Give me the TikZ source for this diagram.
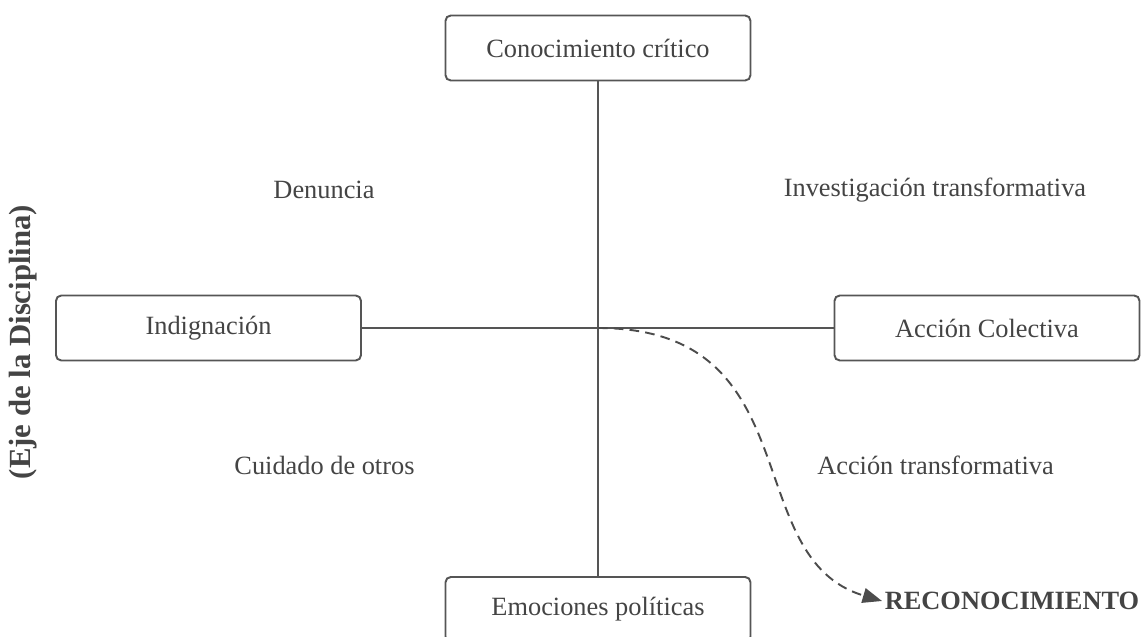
\documentclass[tikz,border=0pt]{standalone}
\usepackage{fontspec}
\setmainfont{Liberation Serif}
\usepackage{xcolor}
\usepackage{tikz}
\usetikzlibrary{arrows.meta}
\definecolor{lineGray}{HTML}{555555}
\definecolor{textGray}{HTML}{444444}
\tikzstyle{block} = [rectangle, draw = lineGray, line width = 1.1pt, rounded corners = 3pt, fill = white, text = textGray, minimum width = 6.1cm, minimum height = 1.3cm, font = \fontsize{15}{18}\selectfont]
\tikzstyle{zone} = [rectangle, draw = none, text = textGray, font = \fontsize{15}{18}\selectfont]
\tikzstyle{line} = [lineGray, line width = 1.1pt]
\tikzstyle{dline} = [lineGray!90!black, line width = 1.1pt, dash pattern = on 5.5pt off 3.5pt, -{Triangle[length = 11pt, width = 8.5pt]}]

\begin{document}
\begin{tikzpicture}
        \useasboundingbox (-11.96,-6.18) rectangle (10.92,6.56);
        \coordinate (centro) at (0,0);
        \node(conocimiento) [block] at (0,5.6) {Conocimiento crítico};
        \node(emociones) [block] at (0,-5.63) {Emociones políticas};
        \node(indignacion) [block] at (-7.79,0) {Indignación};
        \node(accionCol) [block] at (7.78,0) {Acción Colectiva};
        \node(denuncia) [zone] at (-5.48,2.76) {Denuncia};
        \node(investigacion) [zone] at (6.74,2.76) {Investigación transformativa};
        \node(cuidado) [zone] at (-5.47,-2.74) {Cuidado de otros};
        \node(accionTrans) [zone] at (6.75,-2.74) {Acción transformativa};
        \node(reco) [zone, anchor = west, inner sep = 0.05cm, font = \fontsize{15}{18}\selectfont\bfseries] at (5.68,-5.46) {RECONOCIMIENTO};
        \node(eje) [zone, rotate = 90, font = \fontsize{17.5}{21}\selectfont\bfseries] at (-11.5,-0.28) {(Eje de la Disciplina)};
        \draw[line] (conocimiento) -- (emociones);
        \draw[line] (indignacion) -- (accionCol);
        \draw[dline] (centro) .. controls +(4.3,0) and +(-2.9,0.86) .. (reco.west);
    \end{tikzpicture}
\end{document}
